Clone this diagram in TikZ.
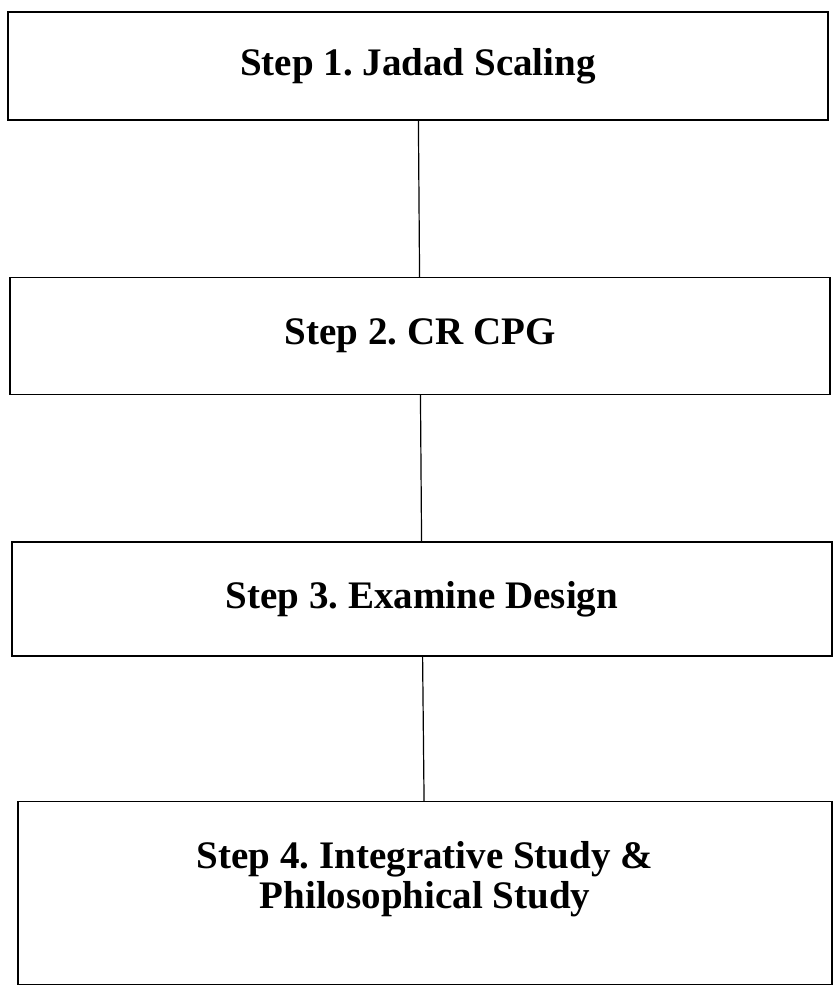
\documentclass[tikz,border=0pt]{standalone}
\usepackage{fontspec}
\setmainfont{Liberation Serif}
\frenchspacing
\begin{document}
\begin{tikzpicture}[x=1pt,y=1pt]
        \tikzstyle{stepbox}=[rectangle, draw, line width=1.2pt, align=center, inner sep=0pt,
            font=\bfseries\fontsize{39}{40}\selectfont]
        \useasboundingbox (0,0) rectangle (833,-990);
        \node[stepbox, minimum width=820, minimum height=108] (s1) at (418,-66) {Step 1. Jadad Scaling};
        \node[stepbox, minimum width=820, minimum height=117] (s2) at (420,-336) {Step 2. CR CPG};
        \node[stepbox, minimum width=820, minimum height=114] (s3) at (422,-599) {Step 3. Examine Design};
        \node[stepbox, minimum width=814, minimum height=183] (s4) at (425,-893)
            {\raisebox{6pt}[0pt][0pt]{\begin{tabular}{@{}c@{}}Step 4. Integrative Study \&\\Philosophical Study\end{tabular}}};
        \draw[line width=1.2pt] (s1) -- (s2);
        \draw[line width=1.2pt] (s2) -- (s3);
        \draw[line width=1.2pt] (s3) -- (s4);
      \end{tikzpicture}
\end{document}
